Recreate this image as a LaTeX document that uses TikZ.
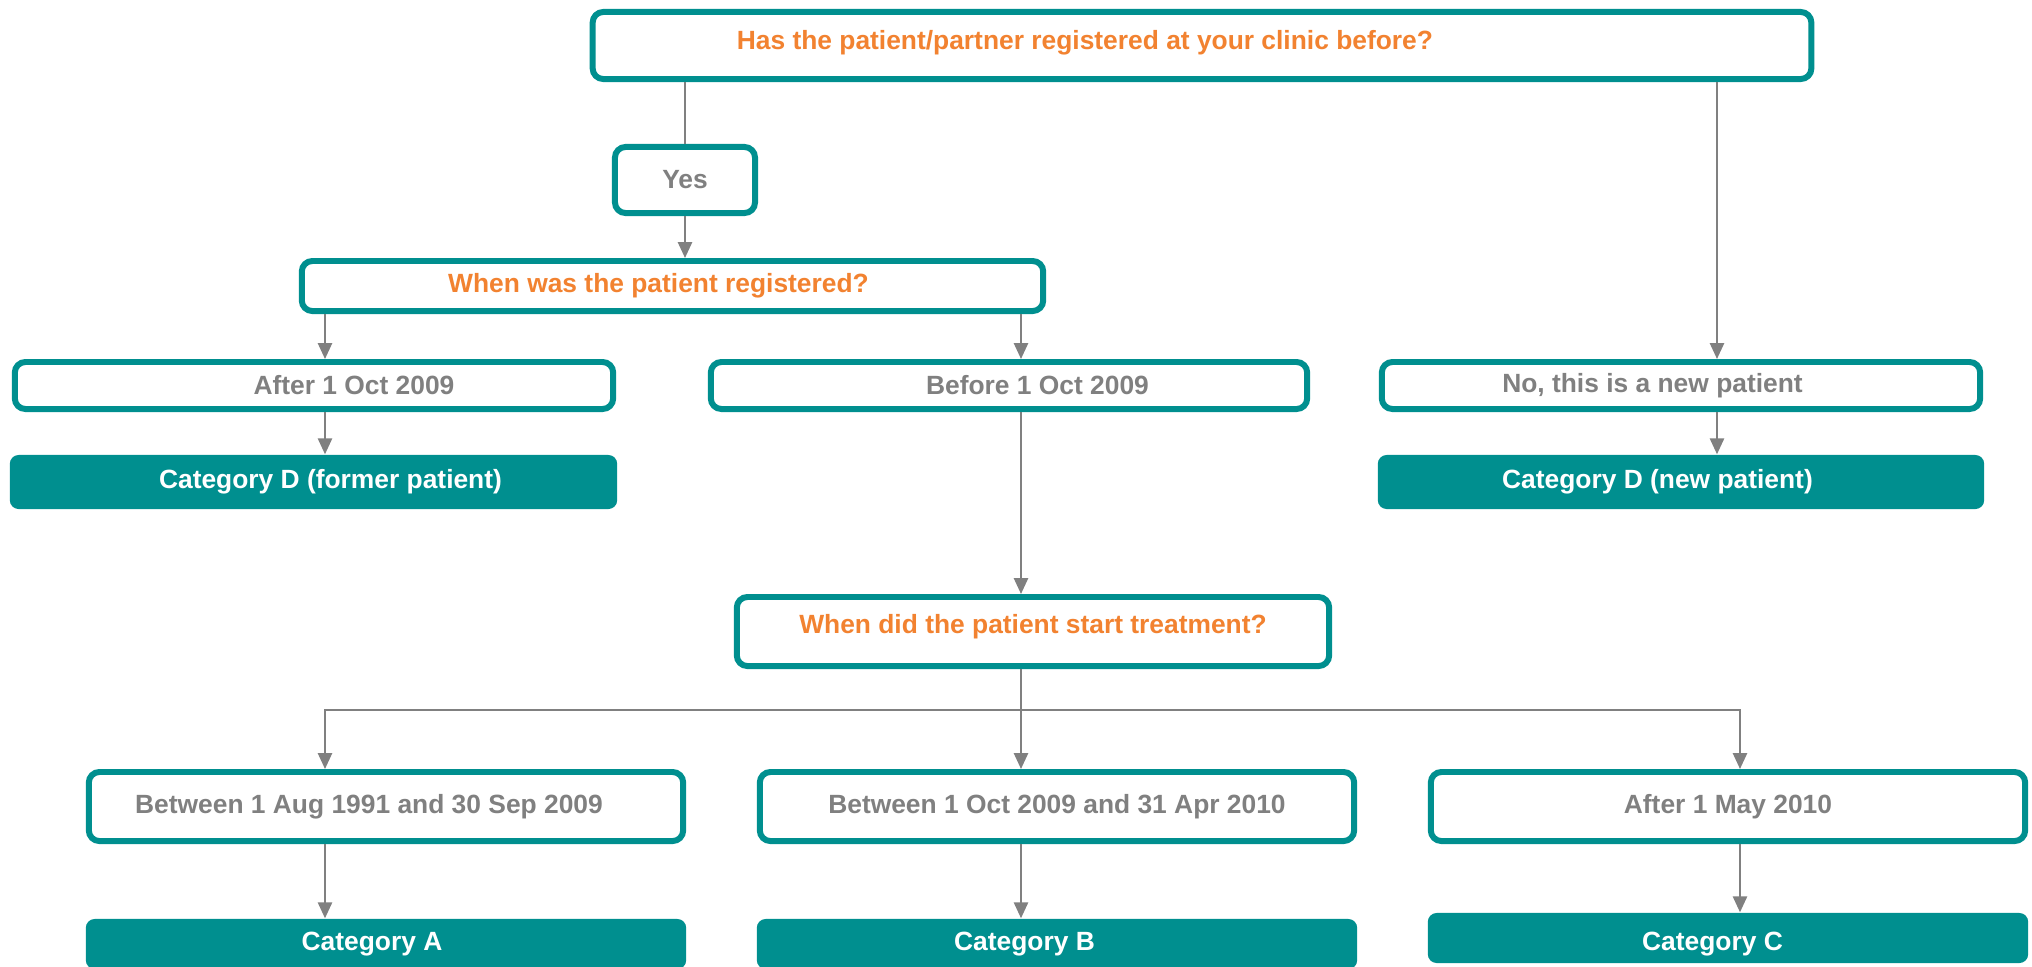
\documentclass[tikz,border=0pt]{standalone}
\usepackage{fontspec}
\setmainfont{Liberation Sans}
\usepackage{xcolor}
\usepackage{tikz}
\usetikzlibrary{arrows.meta,positioning}

\definecolor{clinicteal}{RGB}{0,143,143}
\definecolor{askorange}{RGB}{242,130,48}
\definecolor{notegray}{RGB}{128,128,128}
\definecolor{linegray}{RGB}{128,128,128}

\begin{document}
\begin{tikzpicture}[
		x=0.01cm, y=-0.01cm,
		font=\fontsize{7.5}{9}\selectfont\bfseries,
		>={Triangle[width=4pt,length=4.5pt]},
		qbox/.style={draw=clinicteal, line width=1.7pt, rounded corners=3pt, fill=white, inner sep=0pt, text=askorange},
		abox/.style={qbox, text=notegray},
		catbox/.style={fill=clinicteal, rounded corners=2.5pt, inner sep=0pt, text=white},
		shifttext/.style={execute at begin node={\kern#1}},
		flow/.style={->, draw=linegray, line width=0.6pt},
		link/.style={draw=linegray, line width=0.6pt}
		]
		\useasboundingbox (0,0) rectangle (2032,966);
		% columns of the connectors
		\coordinate (c1) at (325,0);
		\coordinate (c2) at (1021,0);
		\coordinate (c3) at (1717,0);
		\coordinate (c4) at (1740,0);
		\coordinate (split) at (1021,710);
		
		\node[qbox, minimum width=12.18cm, minimum height=0.67cm,
			label={[text=askorange, xshift=-1.17cm, yshift=0.025cm]center:Has the patient/partner registered at your clinic before?}] (reg) at (1202,45.5) {};
		\node[abox, minimum width=1.40cm, minimum height=0.66cm] (yes) at (685,180) {Yes};
		\node[qbox, minimum width=7.41cm, minimum height=0.50cm, shifttext=-0.28cm] (whenreg) at (672.5,286) {When was the patient registered?};
		
		\node[abox, minimum width=5.98cm, minimum height=0.47cm, shifttext=0.80cm] (after) at (314,385.5) {After 1 Oct 2009};
		\node[abox, minimum width=5.96cm, minimum height=0.47cm, shifttext=0.57cm] (before) at (1009,385.5) {Before 1 Oct 2009};
		\node[abox, minimum width=5.98cm, minimum height=0.47cm, shifttext=-0.57cm] (newp) at (1681,385.5) {No, this is a new patient};
		\node[catbox, minimum width=6.07cm, minimum height=0.54cm, shifttext=0.34cm] (catdf) at (313.5,482) {Category D (former patient)};
		\node[catbox, minimum width=6.06cm, minimum height=0.54cm, shifttext=-0.47cm] (catdn) at (1681,482) {Category D (new patient)};
		
		\node[qbox, minimum width=5.92cm, minimum height=0.69cm, text height=5.6pt, text depth=4.4pt] (whentr) at (1033,631.5) {When did the patient start treatment?};
		\node[abox, minimum width=5.94cm, minimum height=0.69cm, shifttext=-0.34cm] (betA) at (386,806.5) {Between 1 Aug 1991 and 30 Sep 2009};
		\node[abox, minimum width=5.94cm, minimum height=0.69cm] (betB) at (1057,806.5) {Between 1 Oct 2009 and 31 Apr 2010};
		\node[abox, minimum width=5.94cm, minimum height=0.69cm] (aftM) at (1728,806.5) {After 1 May 2010};
		\node[catbox, minimum width=6.00cm, minimum height=0.50cm, shifttext=-0.28cm] (catA) at (386,944) {Category A};
		\node[catbox, minimum width=6.00cm, minimum height=0.50cm, shifttext=-0.65cm] (catB) at (1057,944) {Category B};
		\node[catbox, minimum width=6.00cm, minimum height=0.50cm, shifttext=-0.31cm, text height=8.6pt, text depth=1.6pt] (catC) at (1728,938) {Category C};
		
		\draw[link] (reg.south -| yes.north) -- (yes.north);
		\draw[flow] (yes.south) -- (yes.south |- whenreg.north);
		\draw[flow] (whenreg.south -| c1) -- (after.north -| c1);
		\draw[flow] (whenreg.south -| c2) -- (before.north -| c2);
		\draw[flow] (reg.south -| c3) -- (newp.north -| c3);
		\draw[flow] (after.south -| c1) -- (catdf.north -| c1);
		\draw[flow] (newp.south -| c3) -- (catdn.north -| c3);
		\draw[flow] (before.south -| c2) -- (whentr.north -| c2);
		\draw[link] (whentr.south -| c2) -- (split);
		\draw[flow] (split) -| (betA.north -| c1);
		\draw[flow] (split) -- (betB.north -| c2);
		\draw[flow] (split) -| (aftM.north -| c4);
		\draw[flow] (betA.south -| c1) -- (catA.north -| c1);
		\draw[flow] (betB.south -| c2) -- (catB.north -| c2);
		\draw[flow] (aftM.south -| c4) -- (catC.north -| c4);
	\end{tikzpicture}
\end{document}
